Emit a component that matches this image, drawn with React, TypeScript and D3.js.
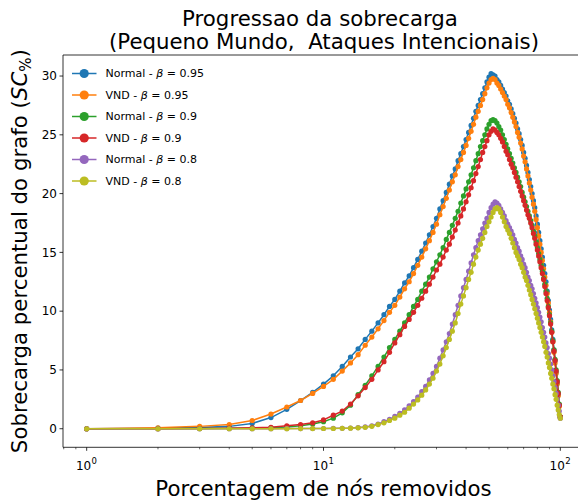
import React from "react";
import * as d3 from "d3";

// Percentage of removed nodes (1..100)
const removed: number[] = d3.range(1, 101);

const normal095: number[] = [
  0.0, 0.05, 0.1, 0.2, 0.45, 0.95, 1.65, 2.4, 3.1, 3.8,
  4.5, 5.3, 6.1, 6.8, 7.6, 8.3, 9.0, 9.7, 10.4, 11.0,
  11.7, 12.4, 13.0, 13.7, 14.4, 15.1, 15.8, 16.5, 17.2, 17.9,
  18.7, 19.4, 20.1, 20.8, 21.5, 22.1, 22.8, 23.4, 24.0, 24.6,
  25.2, 25.8, 26.4, 27.0, 27.5, 28.0, 28.5, 29.0, 29.5, 29.9,
  30.2, 30.1, 30.0, 29.7, 29.5, 29.2, 28.9, 28.6, 28.3, 27.9,
  27.6, 27.2, 26.8, 26.4, 26.0, 25.5, 25.1, 24.6, 24.1, 23.5,
  23.0, 22.4, 21.8, 21.2, 20.6, 20.0, 19.4, 18.8, 18.1, 17.4,
  16.7, 16.0, 15.3, 14.6, 13.9, 13.2, 12.5, 11.7, 10.9, 10.1,
  9.3, 8.4, 7.6, 6.7, 5.8, 4.8, 3.9, 2.9, 2.0, 1.0,
];

const vnd095: number[] = [
  0.0, 0.08, 0.2, 0.35, 0.7, 1.25, 1.85, 2.4, 3.0, 3.6,
  4.2, 4.9, 5.6, 6.3, 7.1, 7.8, 8.5, 9.2, 9.9, 10.5,
  11.2, 11.9, 12.5, 13.2, 13.9, 14.6, 15.3, 16.0, 16.7, 17.4,
  18.2, 18.9, 19.6, 20.3, 21.0, 21.6, 22.3, 22.9, 23.5, 24.1,
  24.7, 25.3, 25.9, 26.5, 27.0, 27.5, 28.0, 28.5, 29.0, 29.4,
  29.7, 29.8, 29.7, 29.4, 29.2, 28.9, 28.6, 28.3, 28.0, 27.6,
  27.3, 26.9, 26.5, 26.1, 25.7, 25.2, 24.8, 24.3, 23.8, 23.2,
  22.7, 22.1, 21.5, 20.9, 20.3, 19.7, 19.1, 18.5, 17.8, 17.1,
  16.4, 15.7, 15.0, 14.3, 13.6, 12.9, 12.2, 11.5, 10.7, 9.9,
  9.1, 8.2, 7.4, 6.5, 5.6, 4.7, 3.8, 2.8, 1.9, 1.0,
];

const normal090: number[] = [
  0.0, 0.0, 0.01, 0.03, 0.05, 0.08, 0.15, 0.25, 0.4, 0.6,
  0.9, 1.35, 2.0, 2.9, 3.7, 4.5, 5.3, 6.1, 6.9, 7.6,
  8.3, 9.0, 9.7, 10.4, 11.0, 11.7, 12.3, 12.9, 13.6, 14.2,
  14.8, 15.4, 16.1, 16.7, 17.3, 17.9, 18.5, 19.2, 19.8, 20.4,
  21.0, 21.6, 22.2, 22.8, 23.4, 24.0, 24.5, 25.0, 25.5, 25.9,
  26.2, 26.3, 26.2, 26.0, 25.7, 25.4, 25.0, 24.6, 24.2, 23.8,
  23.4, 23.0, 22.6, 22.2, 21.8, 21.4, 21.0, 20.6, 20.1, 19.7,
  19.3, 18.9, 18.5, 18.1, 17.7, 17.3, 16.8, 16.4, 15.9, 15.4,
  14.9, 14.4, 13.9, 13.4, 12.8, 12.3, 11.7, 11.1, 10.4, 9.7,
  9.0, 8.3, 7.5, 6.7, 5.9, 5.0, 4.1, 3.1, 2.1, 1.0,
];

const vnd090: number[] = [
  0.0, 0.0, 0.02, 0.05, 0.08, 0.12, 0.25, 0.35, 0.5, 0.75,
  1.15, 1.5, 2.1, 2.8, 3.5, 4.2, 5.0, 5.7, 6.5, 7.3,
  8.0, 8.7, 9.3, 9.9, 10.5, 11.1, 11.7, 12.3, 12.9, 13.5,
  14.0, 14.6, 15.2, 15.7, 16.3, 16.9, 17.5, 18.1, 18.7, 19.3,
  19.9, 20.5, 21.1, 21.7, 22.3, 22.9, 23.5, 24.0, 24.5, 25.0,
  25.3, 25.5, 25.4, 25.2, 25.0, 24.7, 24.4, 24.0, 23.6, 23.3,
  22.9, 22.5, 22.2, 21.8, 21.4, 21.0, 20.6, 20.2, 19.8, 19.4,
  19.0, 18.6, 18.2, 17.9, 17.5, 17.1, 16.6, 16.2, 15.7, 15.2,
  14.7, 14.2, 13.7, 13.2, 12.7, 12.1, 11.5, 10.9, 10.3, 9.6,
  8.9, 8.2, 7.4, 6.6, 5.8, 4.9, 4.0, 3.0, 2.0, 1.0,
];

const normal080: number[] = [
  0.0, 0.0, 0.0, 0.0, 0.0, 0.0, 0.01, 0.01, 0.02, 0.02,
  0.03, 0.04, 0.06, 0.1, 0.15, 0.25, 0.4, 0.6, 0.8, 1.05,
  1.3, 1.6, 1.95, 2.3, 2.7, 3.15, 3.6, 4.15, 4.7, 5.3,
  6.0, 6.7, 7.4, 8.1, 8.9, 9.7, 10.5, 11.3, 12.0, 12.7,
  13.4, 14.1, 14.8, 15.4, 16.0, 16.5, 17.0, 17.5, 17.9, 18.4,
  18.8, 19.1, 19.3, 19.2, 19.0, 18.7, 18.4, 18.1, 17.7, 17.4,
  17.1, 16.8, 16.5, 16.1, 15.8, 15.4, 15.1, 14.7, 14.4, 14.0,
  13.7, 13.3, 12.9, 12.6, 12.2, 11.9, 11.5, 11.1, 10.7, 10.3,
  9.9, 9.5, 9.1, 8.6, 8.2, 7.8, 7.3, 6.9, 6.4, 6.0,
  5.5, 5.0, 4.5, 4.0, 3.5, 3.0, 2.5, 2.0, 1.5, 0.9,
];

const vnd080: number[] = [
  0.0, 0.0, 0.0, 0.0, 0.0, 0.0, 0.0, 0.01, 0.01, 0.02,
  0.02, 0.03, 0.05, 0.08, 0.12, 0.2, 0.35, 0.5, 0.7, 0.9,
  1.15, 1.4, 1.75, 2.1, 2.45, 2.85, 3.3, 3.8, 4.3, 4.9,
  5.5, 6.2, 6.9, 7.6, 8.3, 9.0, 9.8, 10.6, 11.3, 12.0,
  12.7, 13.3, 14.0, 14.6, 15.2, 15.7, 16.2, 16.7, 17.2, 17.6,
  18.0, 18.4, 18.7, 18.8, 18.7, 18.4, 18.0, 17.6, 17.2, 16.9,
  16.6, 16.2, 15.8, 15.4, 15.0, 14.7, 14.4, 14.0, 13.7, 13.3,
  12.9, 12.6, 12.2, 11.8, 11.4, 11.0, 10.6, 10.2, 9.8, 9.4,
  9.0, 8.6, 8.2, 7.8, 7.4, 7.0, 6.5, 6.1, 5.6, 5.2,
  4.7, 4.3, 3.8, 3.4, 2.9, 2.5, 2.0, 1.6, 1.2, 0.9,
];

const seriesLabels: { name: string; beta: string }[] = [
  { name: "Normal", beta: "0.95" },
  { name: "VND", beta: "0.95" },
  { name: "Normal", beta: "0.9" },
  { name: "VND", beta: "0.9" },
  { name: "Normal", beta: "0.8" },
  { name: "VND", beta: "0.8" },
];
const seriesValues: number[][] = [normal095, vnd095, normal090, vnd090, normal080, vnd080];
const seriesColors: string[] = ["#1f77b4", "#ff7f0e", "#2ca02c", "#d62728", "#9467bd", "#bcbd22"];

const yTicks: number[] = [0, 5, 10, 15, 20, 25, 30];
const xMajorTicks: number[] = [1, 10, 100];
const xMajorExp: string[] = ["0", "1", "2"];

const W = 578;
const H = 502;
const FONT = "DejaVu Sans, sans-serif";

export default function App() {
  const left = 63;
  const right = 584;
  const top = 55;
  const bottom = 447.3;

  const x = d3.scaleLog().domain([Math.pow(10, -0.1), Math.pow(10, 2.1)]).range([left, right]);
  const y = d3.scaleLinear().domain([-1.58, 31.79]).range([bottom, top]);

  const minorTicks: number[] = [];
  for (const dec of [0.1, 1, 10]) {
    for (let k = 2; k <= 9; k++) {
      const v = dec * k;
      if (v >= x.domain()[0] && v <= x.domain()[1]) minorTicks.push(v);
    }
  }

  const line = d3
    .line<number>()
    .x((_, i) => x(removed[i]))
    .y((d) => y(d));

  const bigFont = 21.3;

  return (
    <svg
      width={W}
      height={H}
      style={{ position: "absolute", left: 0, top: 0, background: "#fff" }}
      fontFamily={FONT}
    >
      <rect x={0} y={0} width={W} height={H} fill="#fff" />

      {/* title */}
      <text x={320} y={26} textAnchor="middle" fontSize={bigFont} fill="#000">
        Progressao da sobrecarga
      </text>
      <text x={324} y={49} textAnchor="middle" fontSize={bigFont} fill="#000" xmlSpace="preserve">
        (Pequeno Mundo,  Ataques Intencionais)
      </text>

      {/* series */}
      <g>
        {seriesValues.map((vals, si) => (
          <g key={si}>
            <path d={line(vals) || ""} fill="none" stroke={seriesColors[si]} strokeWidth={1.5} strokeLinejoin="round" />
            {vals.map((v, i) => (
              <circle key={i} cx={x(removed[i])} cy={y(v)} r={2.6} fill={seriesColors[si]} />
            ))}
          </g>
        ))}
      </g>

      {/* spines */}
      <g stroke="#000" strokeWidth={0.8} fill="none">
        <line x1={left} y1={top} x2={left} y2={bottom} />
        <line x1={left} y1={bottom} x2={right} y2={bottom} />
        <line x1={left} y1={top} x2={right} y2={top} />
        <line x1={right} y1={top} x2={right} y2={bottom} />
      </g>

      {/* y axis */}
      <g fontSize={12} fill="#000">
        {yTicks.map((t) => (
          <g key={t}>
            <line x1={left - 3.5} x2={left} y1={y(t)} y2={y(t)} stroke="#000" strokeWidth={0.8} />
            <text x={left - 6} y={y(t)} dy="0.36em" textAnchor="end">
              {t}
            </text>
          </g>
        ))}
      </g>

      {/* x axis */}
      <g fill="#000">
        {minorTicks.map((t) => (
          <line key={t} x1={x(t)} x2={x(t)} y1={bottom} y2={bottom + 2} stroke="#000" strokeWidth={0.6} />
        ))}
        {xMajorTicks.map((t, i) => (
          <g key={t}>
            <line x1={x(t)} x2={x(t)} y1={bottom} y2={bottom + 3.5} stroke="#000" strokeWidth={0.8} />
            <text x={x(t) - 3.1} y={470} textAnchor="middle" fontSize={12}>
              10
            </text>
            <text x={x(t) + 4.9} y={463.5} textAnchor="start" fontSize={8.5}>
              {xMajorExp[i]}
            </text>
          </g>
        ))}
      </g>

      {/* axis labels */}
      <text x={(left + right) / 2} y={496} textAnchor="middle" fontSize={bigFont} fill="#000">
        Porcentagem de n<tspan fontStyle="italic">ó</tspan>s removidos
      </text>
      <text
        transform={`translate(27, ${(top + bottom) / 2}) rotate(-90)`}
        textAnchor="middle"
        fontSize={bigFont}
        fill="#000"
      >
        Sobrecarga percentual do grafo (<tspan fontStyle="italic">SC</tspan>
        <tspan fontSize={15} dy={4}>%</tspan>
        <tspan dy={-4}>)</tspan>
      </text>

      {/* legend */}
      <g fontSize={11} fill="#000">
        {seriesLabels.map((s, i) => {
          const ly = 73.5 + i * 21.5;
          return (
            <g key={i}>
              <line x1={72} x2={96.5} y1={ly} y2={ly} stroke={seriesColors[i]} strokeWidth={1.5} />
              <circle cx={84.2} cy={ly} r={4.6} fill={seriesColors[i]} />
              <text x={105.5} y={ly} dy="0.36em">
                {s.name} - <tspan fontStyle="italic">β</tspan> = {s.beta}
              </text>
            </g>
          );
        })}
      </g>
    </svg>
  );
}
